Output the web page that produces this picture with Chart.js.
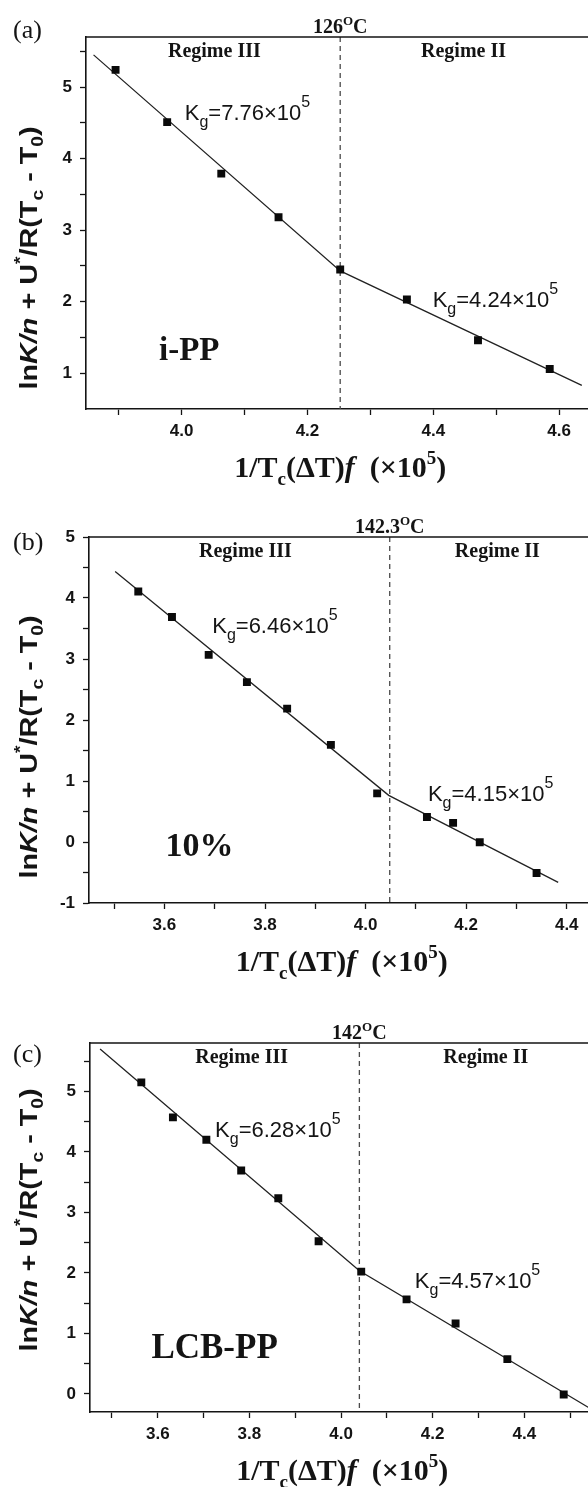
<!DOCTYPE html>
<html lang="en">
<head>
<meta charset="UTF-8" />
<title>Regime II / III analysis</title>
<script src="https://cdn.jsdelivr.net/npm/chart.js"></script>
<style>
  body { margin: 0; background: #fff; width: 588px; height: 1487px; overflow: hidden; position: relative; }
  canvas { position: absolute; left: 0; }
</style>
</head>
<body>
<canvas id="chartA" width="600" height="490" style="top:0"></canvas>
<canvas id="chartB" width="600" height="490" style="top:490px"></canvas>
<canvas id="chartC" width="600" height="507" style="top:980px"></canvas>
<script>
// ---- panel (a) i-PP ----
const xA = [3.895, 3.977, 4.063, 4.154, 4.252, 4.358, 4.471, 4.585];
const yA = [5.24, 4.51, 3.79, 3.18, 2.45, 2.03, 1.46, 1.06];
const fitXA = [3.860, 4.252, 4.636];
const fitYA = [5.45, 2.43, 0.83];
const xTicksA = [3.9, 4.0, 4.1, 4.2, 4.3, 4.4, 4.5, 4.6];
const xLabelsA = [4.0, 4.2, 4.4, 4.6];
const yTicksA = [1, 1.5, 2, 2.5, 3, 3.5, 4, 4.5, 5, 5.5];
const yLabelsA = [1, 2, 3, 4, 5];
const breakA = 4.252;
const tempA = '126';
const kgA = ['7.76', '4.24'];

// ---- panel (b) 10% ----
const xB = [3.548, 3.615, 3.688, 3.764, 3.844, 3.931, 4.023, 4.122, 4.174, 4.227, 4.340];
const yB = [4.107, 3.688, 3.067, 2.621, 2.186, 1.592, 0.797, 0.411, 0.313, -0.003, -0.509];
const fitXB = [3.502, 4.046, 4.383];
const fitYB = [4.434, 0.765, -0.661];
const xTicksB = [3.5, 3.6, 3.7, 3.8, 3.9, 4.0, 4.1, 4.2, 4.3, 4.4];
const xLabelsB = [3.6, 3.8, 4.0, 4.2, 4.4];
const yTicksB = [-1, -0.5, 0, 0.5, 1, 1.5, 2, 2.5, 3, 3.5, 4, 4.5, 5];
const yLabelsB = [-1, 0, 1, 2, 3, 4, 5];
const breakB = 4.048;
const tempB = '142.3';
const kgB = ['6.46', '4.15'];

// ---- panel (c) LCB-PP ----
const xC = [3.564, 3.633, 3.706, 3.782, 3.863, 3.951, 4.044, 4.143, 4.250, 4.363, 4.486];
const yC = [5.149, 4.570, 4.200, 3.692, 3.234, 2.522, 2.020, 1.562, 1.164, 0.574, -0.011];
const fitXC = [3.474, 4.040, 4.553];
const fitYC = [5.70, 2.036, -0.283];
const xTicksC = [3.5, 3.6, 3.7, 3.8, 3.9, 4.0, 4.1, 4.2, 4.3, 4.4, 4.5];
const xLabelsC = [3.6, 3.8, 4.0, 4.2, 4.4];
const yTicksC = [0, 0.5, 1, 1.5, 2, 2.5, 3, 3.5, 4, 4.5, 5, 5.5];
const yLabelsC = [0, 1, 2, 3, 4, 5];
const breakC = 4.040;
const tempC = '142';
const kgC = ['6.28', '4.57'];

const SERIF = '"Liberation Serif", "Times New Roman", serif';
const SANS = '"Liberation Sans", Arial, sans-serif';
const INK = '#141414';

// draw a row of text pieces (text, font, dy) one after another
function runs(ctx, x, y, parts, align) {
  ctx.textAlign = 'left';
  let w = 0;
  parts.forEach(p => { ctx.font = p[1]; w += ctx.measureText(p[0]).width; });
  let cx = align === 'center' ? x - w / 2 : x;
  parts.forEach(p => {
    ctx.font = p[1];
    ctx.fillText(p[0], cx, y + (p[2] || 0));
    cx += ctx.measureText(p[0]).width;
  });
}

function decor(p) {
  return {
    id: 'decor',
    beforeDatasetsDraw(chart) {
      const { ctx, chartArea: a, scales: { x } } = chart;
      const bx = x.getPixelForValue(p.breakX);
      ctx.save();
      ctx.strokeStyle = '#4a4a4a';
      ctx.lineWidth = 1.3;
      ctx.setLineDash([5, 4]);
      ctx.beginPath();
      ctx.moveTo(bx, a.top);
      ctx.lineTo(bx, a.bottom);
      ctx.stroke();
      ctx.restore();
    },
    afterDraw(chart) {
      const { ctx, chartArea: a, scales: { x, y } } = chart;
      ctx.save();
      ctx.fillStyle = INK;
      ctx.strokeStyle = INK;
      ctx.lineWidth = 1.6;
      ctx.beginPath();
      ctx.moveTo(a.left, a.top);
      ctx.lineTo(a.right, a.top);
      ctx.lineTo(a.right, a.bottom);
      ctx.stroke();
      ctx.textBaseline = 'alphabetic';

      const bx = x.getPixelForValue(p.breakX);
      runs(ctx, bx, a.top - 4, [
        [p.temp, 'bold 20px ' + SERIF],
        ['O', 'bold 13px ' + SERIF, -8],
        ['C', 'bold 20px ' + SERIF]
      ], 'center');

      ctx.font = 'bold 20px ' + SERIF;
      ctx.textAlign = 'center';
      ctx.fillText('Regime III', x.getPixelForValue(p.regimeX[0]), a.top + 20);
      ctx.fillText('Regime II', x.getPixelForValue(p.regimeX[1]), a.top + 20);

      p.kg.forEach((v, i) => {
        const kx = x.getPixelForValue(p.kgPos[i][0]);
        const ky = y.getPixelForValue(p.kgPos[i][1]);
        runs(ctx, kx, ky, [
          ['K', '22px ' + SANS],
          ['g', '16px ' + SANS, 7],
          ['=' + v + '\u00d710', '22px ' + SANS],
          ['5', '16px ' + SANS, -13]
        ]);
      });

      ctx.textAlign = 'left';
      ctx.font = 'bold ' + p.nameSize + 'px ' + SERIF;
      ctx.fillText(p.name, x.getPixelForValue(p.namePos[0]), y.getPixelForValue(p.namePos[1]));

      ctx.font = '26px ' + SERIF;
      ctx.fillText(p.letter, 13, p.letterY);

      runs(ctx, (a.left + a.right) / 2, a.bottom + 68, [
        ['1/T', 'bold 30px ' + SERIF],
        ['c', 'bold 19px ' + SERIF, 8],
        ['(\u0394T)', 'bold 30px ' + SERIF],
        ['f', 'bold italic 30px ' + SERIF],
        ['  (\u00d710', 'bold 30px ' + SERIF],
        ['5', 'bold 19px ' + SERIF, -13],
        [')', 'bold 30px ' + SERIF]
      ], 'center');

      ctx.translate(37, p.yTitleY);
      ctx.rotate(-Math.PI / 2);
      ctx.scale(1.2, 1);
      runs(ctx, 0, 0, [
        ['ln', 'bold 24px ' + SANS],
        ['K/n', 'bold italic 24px ' + SANS],
        [' + U', 'bold 24px ' + SANS],
        ['*', 'bold 16px ' + SANS, -11],
        ['/R(T', 'bold 24px ' + SANS],
        ['c', 'bold 16px ' + SANS, 6],
        [' - T', 'bold 24px ' + SANS],
        ['0', 'bold 16px ' + SANS, 6],
        [')', 'bold 24px ' + SANS]
      ], 'center');
      ctx.restore();
    }
  };
}

function makePanel(id, p) {
  const canvas = document.getElementById(id);
  const W = canvas.width, H = canvas.height;
  const has = (list, v) => list.some(l => Math.abs(l - v) < 1e-6);
  const axisLook = {
    border: { display: true, color: INK, width: 1.6 },
    grid: { display: true, drawOnChartArea: false, drawTicks: true, tickLength: 6, tickColor: INK, tickWidth: 1.3 },
  };
  return new Chart(canvas.getContext('2d'), {
    type: 'scatter',
    data: {
      datasets: [
        {
          data: p.xs.map((v, i) => ({ x: v, y: p.ys[i] })),
          pointStyle: 'rect', pointRadius: 5.6, pointHoverRadius: 5.6,
          backgroundColor: '#0a0a0a', borderColor: '#0a0a0a', borderWidth: 0, showLine: false
        },
        {
          data: p.fitX.map((v, i) => ({ x: v, y: p.fitY[i] })),
          showLine: true, pointRadius: 0, borderColor: '#222', borderWidth: 1.3, fill: false
        }
      ]
    },
    options: {
      responsive: false,
      animation: false,
      events: [],
      layout: { padding: { top: p.area.top, right: W - 596, left: 0, bottom: 0 } },
      plugins: { legend: { display: false }, tooltip: { enabled: false } },
      scales: {
        x: {
          type: 'linear', min: p.xMin, max: p.xMax,
          ...axisLook,
          afterBuildTicks: s => { s.ticks = p.xTicks.map(v => ({ value: v })); },
          afterFit: s => { s.height = H - p.area.bottom; },
          ticks: {
            autoSkip: false, maxRotation: 0, padding: 6, color: INK,
            font: { family: SANS, size: 17, weight: 'bold' },
            callback: v => has(p.xLabels, v) ? v.toFixed(1) : ''
          }
        },
        y: {
          type: 'linear', min: p.yMin, max: p.yMax,
          ...axisLook,
          afterBuildTicks: s => { s.ticks = p.yTicks.map(v => ({ value: v })); },
          afterFit: s => { s.width = p.area.left; },
          ticks: {
            autoSkip: false, padding: 8, color: INK,
            font: { family: SANS, size: 17, weight: 'bold' },
            callback: v => has(p.yLabels, v) ? String(Math.round(v)) : ''
          }
        }
      }
    },
    plugins: [decor(p)]
  });
}

makePanel('chartA', {
  xs: xA, ys: yA, fitX: fitXA, fitY: fitYA,
  xMin: 3.848, xMax: 4.656, yMin: 0.5, yMax: 5.7,
  xTicks: xTicksA, xLabels: xLabelsA, yTicks: yTicksA, yLabels: yLabelsA,
  breakX: breakA, temp: tempA, kg: kgA, kgPos: [[4.005, 4.535], [4.399, 1.92]],
  name: 'i-PP', nameSize: 33, namePos: [3.964, 1.18], regimeX: [4.052, 4.448],
  letter: '(a)', letterY: 38, yTitleY: 258,
  area: { left: 86, top: 37, bottom: 409 }
});

makePanel('chartB', {
  xs: xB, ys: yB, fitX: fitXB, fitY: fitYB,
  xMin: 3.45, xMax: 4.455, yMin: -1, yMax: 5,
  xTicks: xTicksB, xLabels: xLabelsB, yTicks: yTicksB, yLabels: yLabelsB,
  breakX: breakB, temp: tempB, kg: kgB, kgPos: [[3.695, 3.43], [4.124, 0.677]],
  name: '10%', nameSize: 34, namePos: [3.602, -0.23], regimeX: [3.761, 4.262],
  letter: '(b)', letterY: 60, yTitleY: 257,
  area: { left: 89, top: 47, bottom: 413 }
});

makePanel('chartC', {
  xs: xC, ys: yC, fitX: fitXC, fitY: fitYC,
  xMin: 3.452, xMax: 4.553, yMin: -0.3, yMax: 5.8,
  xTicks: xTicksC, xLabels: xLabelsC, yTicks: yTicksC, yLabels: yLabelsC,
  breakX: breakC, temp: tempC, kg: kgC, kgPos: [[3.725, 4.253], [4.161, 1.748]],
  name: 'LCB-PP', nameSize: 35, namePos: [3.586, 0.589], regimeX: [3.783, 4.316],
  letter: '(c)', letterY: 82, yTitleY: 240,
  area: { left: 90, top: 63, bottom: 432 }
});
</script>
</body>
</html>
